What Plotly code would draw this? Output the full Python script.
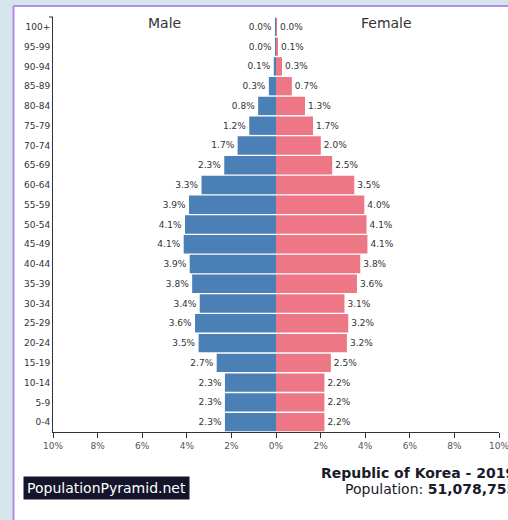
import plotly.graph_objects as go

ages = ["100+", "95-99", "90-94", "85-89", "80-84", "75-79", "70-74", "65-69",
        "60-64", "55-59", "50-54", "45-49", "40-44", "35-39", "30-34", "25-29",
        "20-24", "15-19", "10-14", "5-9", "0-4"]
male = [0.004, 0.02, 0.1, 0.32, 0.8, 1.2, 1.72, 2.32, 3.34, 3.9, 4.08, 4.14,
        3.87, 3.76, 3.42, 3.63, 3.47, 2.66, 2.29, 2.29, 2.29]
female = [0.01, 0.06, 0.27, 0.71, 1.3, 1.66, 2.01, 2.52, 3.51, 3.96, 4.06, 4.1,
          3.78, 3.63, 3.07, 3.24, 3.18, 2.46, 2.17, 2.17, 2.17]
tick_vals = [-10, -8, -6, -4, -2, 0, 2, 4, 6, 8, 10]
tick_text = ["10%", "8%", "6%", "4%", "2%", "0%", "2%", "4%", "6%", "8%", "10%"]

W, H = 508, 520
L, R, T, B = 53, 9, 17, 88
PW, PH = W - L - R, H - T - B


def px(x):
    return (x - L) / PW


def py(y):
    return 1 - (y - T) / PH


FONT = "DejaVu Sans"

fig = go.Figure()
fig.add_trace(go.Bar(
    y=ages, x=[-v for v in male], orientation="h",
    marker=dict(color="#4a80b5", line=dict(width=0)),
    text=[f"{v:.1f}%" for v in male], textposition="outside",
    textfont=dict(family=FONT, size=9, color="#333"),
    constraintext="none", cliponaxis=False, name="Male", showlegend=False,
))
fig.add_trace(go.Bar(
    y=ages, x=female, orientation="h",
    marker=dict(color="#ee7785", line=dict(width=0)),
    text=[f"{v:.1f}%" for v in female], textposition="outside",
    textfont=dict(family=FONT, size=9, color="#333"),
    constraintext="none", cliponaxis=False, name="Female", showlegend=False,
))

shapes = [
    dict(type="rect", xref="paper", yref="paper", x0=px(13.5), x1=px(520),
         y0=py(530), y1=py(6), fillcolor="white", line=dict(width=0), layer="below"),
    dict(type="line", xref="paper", yref="paper", x0=px(13.5), x1=px(520),
         y0=py(6), y1=py(6), line=dict(color="#b48ce6", width=2)),
    dict(type="line", xref="paper", yref="paper", x0=px(13.5), x1=px(13.5),
         y0=py(6), y1=py(530), line=dict(color="#b48ce6", width=2)),
    dict(type="line", xref="paper", yref="paper", x0=px(L - 4), x1=px(L),
         y0=1, y1=1, line=dict(color="#333", width=1)),
]

annotations = [
    dict(text="Male", x=px(164), y=py(23), xref="paper", yref="paper",
         xanchor="center", yanchor="middle",
         showarrow=False, font=dict(family=FONT, size=14, color="#333")),
    dict(text="Female", x=px(386), y=py(23), xref="paper", yref="paper",
         xanchor="center", yanchor="middle",
         showarrow=False, font=dict(family=FONT, size=14, color="#333")),
    dict(text="PopulationPyramid.net", x=px(22.7), y=py(488), xref="paper", yref="paper",
         xanchor="left", yanchor="middle", showarrow=False, bgcolor="#14152a",
         borderpad=3, font=dict(family=FONT, size=14, color="white")),
    dict(text="<b>Republic of Korea - 2019</b>", x=px(319), y=py(472.5), xref="paper",
         yref="paper", xanchor="left", yanchor="middle", showarrow=False,
         font=dict(family=FONT, size=14, color="#1a1a2a")),
    dict(text="Population: <b>51,078,755</b>", x=px(343), y=py(489), xref="paper",
         yref="paper", xanchor="left", yanchor="middle", showarrow=False,
         font=dict(family=FONT, size=14, color="#1a1a2a")),
]

fig.update_layout(
    width=W, height=H,
    margin=dict(l=L, r=R, t=T, b=B, autoexpand=False),
    paper_bgcolor="#d4e5ec", plot_bgcolor="white",
    barmode="overlay", bargap=0.07,
    shapes=shapes, annotations=annotations,
    xaxis=dict(range=[-10, 10], tickvals=tick_vals, ticktext=tick_text,
               showline=True, linecolor="#333", linewidth=1, ticks="outside",
               ticklen=5, tickcolor="#333", showgrid=False, zeroline=False,
               ticklabeloverflow="allow",
               tickfont=dict(family=FONT, size=9, color="#555"), fixedrange=True),
    yaxis=dict(categoryorder="array", categoryarray=ages[::-1], autorange=False,
               range=[-0.5, 20.5], showline=True, linecolor="#333", linewidth=1,
               ticks="", showgrid=False, zeroline=False,
               tickfont=dict(family=FONT, size=9, color="#333"), fixedrange=True),
    font=dict(family=FONT),
)

fig.write_html(
    "out.html",
    config={"displayModeBar": False},
    post_script="document.body.style.margin='0';document.body.style.overflow='hidden';",
)
